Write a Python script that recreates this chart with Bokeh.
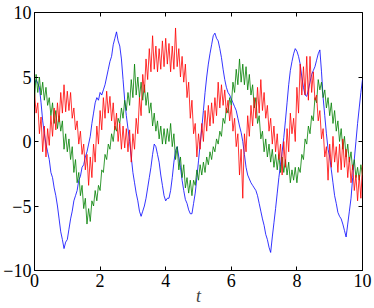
from bokeh.plotting import figure
from bokeh.models import FixedTicker, LinearAxis, Range1d, CustomJSTickFormatter
from bokeh.embed import file_html
from bokeh.resources import INLINE

# ---- data ----
t_step = 0.05
n_pts = 201
t_vals = [round(i * t_step, 2) for i in range(n_pts)]

blue_vals = [
    4.4, 4.8, 4.5, 4.2, 3.0, 1.6, 0.6, -0.2, -0.8, -1.4,
    -2.4, -2.8, -3.6, -4.2, -5.0, -6.0, -7.0, -7.6, -8.3, -7.8,
    -7.6, -6.8, -6.0, -5.4, -4.6, -4.2, -3.8, -3.0, -2.7, -2.0,
    -1.8, -1.2, -0.8, -0.2, 0.4, 1.4, 2.2, 3.0, 3.4, 3.2,
    3.8, 3.6, 4.0, 4.4, 5.0, 5.6, 6.2, 6.6, 7.5, 8.0,
    8.5, 7.8, 7.4, 6.4, 4.8, 3.2, 2.0, 1.0, 0.0, -1.2,
    -2.4, -3.2, -4.0, -4.6, -5.4, -5.8, -5.4, -5.0, -4.4, -3.6,
    -2.8, -2.0, -1.0, -0.2, -0.4, -1.0, -1.6, -2.6, -3.4, -4.2,
    -4.6, -4.4, -4.4, -3.8, -2.8, -1.6, -0.7, -0.4, -1.2, -2.0,
    -3.0, -3.8, -4.5, -4.8, -5.3, -5.6, -5.6, -4.8, -4.0, -2.8,
    -1.5, -0.2, 1.0, 2.4, 3.8, 5.0, 6.0, 6.8, 7.5, 8.2,
    8.4, 8.0, 7.8, 7.2, 6.5, 5.6, 4.8, 4.2, 3.8, 3.6,
    3.3, 3.0, 2.7, 2.4, 1.8, 1.2, 0.7, 0.0, -1.0, -2.0,
    -2.6, -2.9, -3.2, -3.4, -3.6, -3.8, -4.2, -4.8, -5.4, -6.0,
    -6.5, -7.2, -7.6, -8.2, -8.6, -7.4, -6.3, -5.2, -4.0, -2.8,
    -1.8, -0.8, 0.3, 1.6, 3.0, 4.4, 5.5, 6.2, 6.8, 7.2,
    7.0, 6.6, 6.0, 5.0, 4.2, 3.6, 3.5, 4.0, 4.6, 5.2,
    5.5, 5.8, 6.3, 6.8, 7.1, 5.4, 3.4, 2.0, 0.6, -0.6,
    -1.2, -2.2, -3.2, -4.2, -4.8, -5.5, -5.8, -6.0, -6.4, -6.9,
    -7.4, -6.4, -5.4, -4.4, -2.8, -1.4, 0.0, 1.4, 2.6, 3.8,
    4.8,
]

green_vals = [
    3.2, 5.2, 3.8, 5.0, 3.6, 4.6, 3.2, 4.2, 2.8, 3.4,
    2.0, 3.0, 1.4, 2.4, 1.0, 2.0, 0.8, 1.6, -0.6, 0.6,
    -0.8, 0.2, -1.4, -0.4, -2.4, -1.4, -3.2, -2.4, -4.2, -3.4,
    -5.2, -4.4, -6.4, -5.2, -6.2, -4.6, -5.0, -3.8, -4.6, -3.4,
    -3.8, -2.2, -2.4, -1.0, -1.4, -0.2, -0.6, 0.6, 0.0, 1.2,
    0.8, 1.8, 1.4, 2.6, 1.8, 3.2, 2.4, 3.8, 2.8, 4.8,
    3.4, 6.0, 3.6, 5.0, 3.4, 4.6, 3.2, 4.4, 2.8, 3.8,
    2.2, 3.0, 1.2, 2.2, 0.8, 1.6, 0.2, 1.2, -0.2, 1.0,
    -0.2, 1.0, 0.0, 1.4, -0.4, 0.6, -1.4, -0.4, -2.2, -1.2,
    -2.8, -1.8, -3.6, -2.8, -4.0, -3.0, -4.2, -3.0, -3.4, -2.2,
    -3.0, -1.8, -2.6, -1.6, -2.4, -1.2, -1.8, -0.8, -1.4, -0.4,
    -0.8, 0.2, -0.2, 0.8, 0.4, 1.8, 1.4, 2.6, 2.2, 3.4,
    2.8, 4.6, 3.8, 5.6, 4.4, 6.4, 4.6, 6.0, 4.4, 5.8,
    4.0, 5.2, 3.6, 4.4, 2.6, 3.4, 1.4, 2.0, 0.2, 0.8,
    -0.8, 0.2, -1.2, -0.2, -1.6, -0.6, -2.0, -1.0, -2.2, -1.0,
    -2.4, -1.2, -2.4, -1.4, -2.6, -1.6, -3.2, -2.2, -3.0, -2.0,
    -3.2, -2.0, -2.4, -1.0, -1.4, 0.2, -0.2, 1.2, 0.6, 2.0,
    1.6, 3.4, 3.0, 4.8, 4.0, 4.6, 3.4, 4.0, 2.6, 3.4,
    2.0, 3.0, 1.4, 2.4, 0.8, 1.6, 0.0, 1.0, -0.6, 0.4,
    -1.2, -0.2, -1.6, -0.8, -2.2, -1.4, -2.8, -2.0, -3.0, -1.8,
    -2.6,
]

red_vals = [
    3.8, 2.2, 3.0, 0.6, 1.9, -0.8, 1.2, -1.2, 1.0, -0.3,
    2.0, 0.4, 2.6, 0.9, 3.0, 1.5, 3.8, 2.2, 4.4, 2.3,
    3.9, 2.4, 3.8, 1.8, 2.6, 0.9, 1.6, -0.2, 0.8, -1.0,
    -0.2, -2.2, -1.0, -3.4, -1.2, -2.8, -0.2, -1.6, 1.2, -0.2,
    2.4, 0.9, 3.4, 1.8, 3.9, 2.2, 3.5, 1.6, 3.0, 0.9,
    2.2, 0.0, 1.4, -0.6, 1.2, -0.5, 1.0, -0.8, 0.9, -1.6,
    0.6, -0.6, 1.8, 0.6, 3.4, 2.0, 5.2, 3.8, 6.4, 4.8,
    7.2, 5.4, 8.2, 5.6, 7.4, 5.4, 7.2, 5.6, 7.8, 5.8,
    8.0, 6.0, 7.6, 5.4, 7.4, 5.6, 8.8, 5.8, 7.2, 5.0,
    6.6, 4.6, 6.0, 3.4, 4.6, 1.8, 3.2, 0.6, 1.4, -1.2,
    0.6, -0.6, 1.4, 0.0, 2.4, 0.8, 2.8, 1.2, 3.0, 1.4,
    3.4, 2.0, 4.6, 2.6, 4.4, 2.8, 4.0, 2.2, 3.2, 1.6,
    2.8, 0.8, 1.8, -0.4, 0.6, -2.6, -0.6, -4.4, 0.6, -0.8,
    2.0, 0.4, 2.8, 1.2, 3.4, 1.8, 4.2, 2.2, 4.8, 2.4,
    3.8, 1.8, 2.8, 0.8, 1.8, -0.2, 1.2, -0.8, 0.6, -1.4,
    -0.2, -2.6, 0.0, -2.0, 1.0, -0.8, 2.2, 0.6, 1.8, 0.0,
    4.2, 2.2, 6.0, 3.6, 5.8, 3.6, 6.6, 3.2, 6.6, 3.8,
    5.4, 3.2, 3.6, 1.6, 2.4, 0.2, 1.0, -1.2, -0.4, -3.0,
    -0.2, -2.0, 0.4, -1.6, -0.4, -2.4, -0.2, -2.2, 0.2, -2.0,
    -0.6, -2.8, -1.2, -3.2, -1.8, -3.8, -2.6, -4.6, -2.6, -4.4,
    -1.8,
]

x_ticks = [0, 2, 4, 6, 8, 10]
x_tick_labels = ["0", "2", "4", "6", "8", "10"]
y_ticks = [-10, -5, 0, 5, 10]
y_tick_labels = ["\u221210", "\u22125", "0", "5", "10"]
x_label = "t"

# ---- figure ----
FONT = "Liberation Serif"
p = figure(width=374, height=308, output_backend="svg", toolbar_location=None,
           x_range=Range1d(0, 10), y_range=Range1d(-10, 10),
           min_border_left=4, min_border_right=12, min_border_top=12, min_border_bottom=0)
p.background_fill_color = "white"
p.border_fill_color = "white"
p.grid.visible = False
p.outline_line_color = "black"
p.outline_line_width = 1

p.line(t_vals, blue_vals, line_color="#0000ff", line_width=0.8)
p.line(t_vals, green_vals, line_color="#008000", line_width=0.8)
p.line(t_vals, red_vals, line_color="#ff0000", line_width=0.8)

xa = p.xaxis[0]
xa.ticker = FixedTicker(ticks=x_ticks)
xa.major_label_overrides = {k: v for k, v in zip(x_ticks, x_tick_labels)}
xa.axis_label = x_label
xa.axis_label_text_font = FONT
xa.axis_label_text_font_style = "italic"
xa.axis_label_text_font_size = "18px"
xa.axis_label_standoff = -4

ya = p.yaxis[0]
ya.ticker = FixedTicker(ticks=y_ticks)
ya.major_label_overrides = {k: v for k, v in zip(y_ticks, y_tick_labels)}

for ax in (xa, ya):
    ax.major_label_text_font = FONT
    ax.major_label_text_font_size = "18px"
    ax.major_label_text_color = "black"
    ax.major_label_standoff = 3
    ax.major_tick_in = 4
    ax.major_tick_out = 0
    ax.minor_tick_line_color = None
    ax.axis_line_color = "black"
    ax.major_tick_line_color = "black"

top = LinearAxis(ticker=FixedTicker(ticks=x_ticks))
right = LinearAxis(ticker=FixedTicker(ticks=y_ticks))
for ax in (top, right):
    ax.formatter = CustomJSTickFormatter(code="return ''")
    ax.major_label_standoff = 0
    ax.major_tick_in = 4
    ax.major_tick_out = 0
    ax.minor_tick_line_color = None
    ax.axis_line_color = None
    ax.major_tick_line_color = "black"
p.add_layout(top, "above")
p.add_layout(right, "right")

open("out.html", "w").write(file_html(p, INLINE))
